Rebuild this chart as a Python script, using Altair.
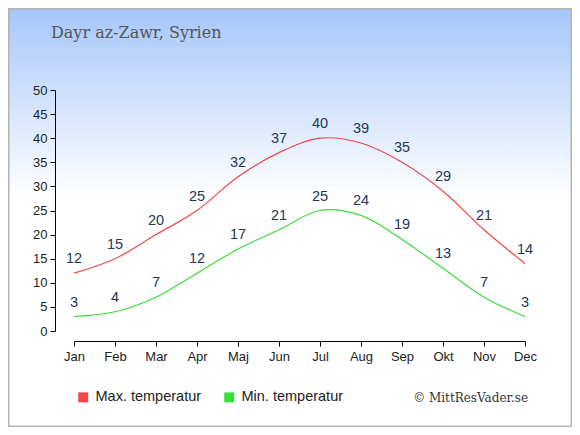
import altair as alt
import pandas as pd

months = ["Jan", "Feb", "Mar", "Apr", "Maj", "Jun", "Jul", "Aug", "Sep", "Okt", "Nov", "Dec"]
max_temp = [12, 15, 20, 25, 32, 37, 40, 39, 35, 29, 21, 14]
min_temp = [3, 4, 7, 12, 17, 21, 25, 24, 19, 13, 7, 3]
series_names = ["Max. temperatur", "Min. temperatur"]
series_colors = ["#f04848", "#3ade3a"]
title_text = "Dayr az-Zawr, Syrien"
credit_text = "© MittResVader.se"
y_ticks = list(range(0, 51, 5))

rows = []
for m, v in zip(months, max_temp):
    rows.append({"month": m, "temp": v, "series": series_names[0]})
for m, v in zip(months, min_temp):
    rows.append({"month": m, "temp": v, "series": series_names[1]})
df = pd.DataFrame(rows)

W, H = 451, 241
PL, PT, PR, PB = 66, 82, 47, 96
SANS = "Liberation Sans, Arial, sans-serif"

x_enc = alt.X(
    "month:O", sort=months, title=None,
    scale=alt.Scale(type="point", padding=0),
    axis=alt.Axis(labelAngle=0, offset=10, grid=False, domainColor="#000", tickColor="#000",
                  tickSize=5, labelColor="#222", labelFont=SANS, labelFontSize=13,
                  labelPadding=4, zindex=2),
)
y_enc = alt.Y(
    "temp:Q", title=None,
    scale=alt.Scale(domain=[0, 50], nice=False, zero=True),
    axis=alt.Axis(values=y_ticks, offset=19, grid=False, domainColor="#000", tickColor="#000",
                  tickSize=5, labelColor="#222", labelFont=SANS, labelFontSize=13,
                  labelPadding=3, zindex=2),
)

color_scale = alt.Scale(domain=series_names, range=series_colors)

one = pd.DataFrame({"a": [0]})

bg = alt.Chart(one).mark_rect(
    fill=alt.Gradient(
        gradient="linear",
        stops=[alt.GradientStop(color="#a6c6fb", offset=0),
               alt.GradientStop(color="#ffffff", offset=0.45),
               alt.GradientStop(color="#ffffff", offset=1)],
        x1=0, x2=0, y1=0, y2=1),
    stroke="#b4b4b4", strokeWidth=1.5,
).encode(x=alt.value(-PL + 0.75), x2=alt.value(W + PR - 0.75),
         y=alt.value(-PT + 0.75), y2=alt.value(H + PB - 0.75))

lines = alt.Chart(df).mark_line(interpolate="catmull-rom", strokeWidth=1.2).encode(
    x=x_enc, y=y_enc,
    color=alt.Color(
        "series:N", sort=series_names, scale=color_scale,
        legend=alt.Legend(
            title=None, orient="none", legendX=2, legendY=300, direction="horizontal",
            symbolType="square", symbolSize=25, symbolStrokeWidth=5, symbolOpacity=1,
            labelFont=SANS, labelFontSize=14.5, labelColor="#222", labelOffset=5, zindex=2,
        ),
    ),
    detail="series:N",
)

labels = alt.Chart(df).mark_text(
    dy=-14, baseline="middle", align="center", font=SANS, fontSize=14.5, color="#24365a"
).encode(x=x_enc, y=y_enc, text="temp:Q")

title = alt.Chart(one).mark_text(
    text=title_text, font="DejaVu Serif", fontSize=16, color="#555555", align="left", baseline="alphabetic"
).encode(x=alt.value(51 - 74), y=alt.value(38 - 90))

credit = alt.Chart(one).mark_text(
    text=credit_text, font="DejaVu Serif", fontSize=12, color="#333333", align="right", baseline="middle"
).encode(x=alt.value(528 - 74), y=alt.value(398 - 90))

chart = alt.layer(bg, lines, labels, title, credit).properties(
    width=W, height=H,
    autosize=alt.AutoSizeParams(type="none"),
    padding={"left": PL, "top": PT, "right": PR, "bottom": PB},
).configure_view(stroke=None).configure_legend(columnPadding=14)

chart.save("out.html", embed_options={"renderer": "svg", "actions": False})
